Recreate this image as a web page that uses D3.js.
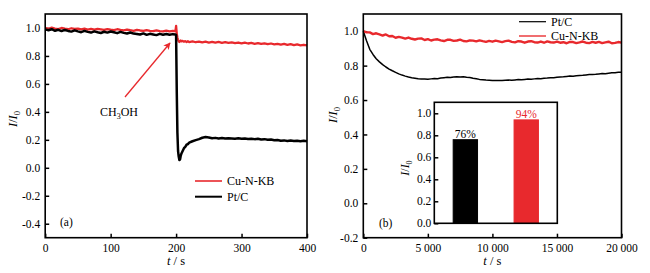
<!DOCTYPE html>
<html>
<head>
<meta charset="utf-8">
<script src="https://cdn.jsdelivr.net/npm/d3@7"></script>
<style>
  body { margin: 0; background: #fff; }
  svg { display: block; }
  svg text { font-family: "Liberation Serif", "Times New Roman", serif; }
</style>
</head>
<body>
<div id="chart"></div>
<script>
// ---- panel (a): chronoamperometry with CH3OH added at 200 s ----
var leftT = [0,5,10,15,20,25,30,35,40,45,50,55,60,65,70,75,80,85,90,95,
  100,105,110,115,120,125,130,135,140,145,150,155,160,165,170,175,180,185,190,195,
  199,200,201,202,203,204,205,206,207,208,
  210,212,214,216,218,220,
  225,230,235,240,245,250,255,260,265,270,275,280,285,290,295,300,305,310,315,320,
  325,330,335,340,345,350,355,360,365,370,375,380,385,390,395,400];

var leftPt = [0.990,0.984,0.991,0.980,0.987,0.978,0.986,0.979,0.974,0.983,
  0.976,0.970,0.979,0.972,0.967,0.976,0.969,0.964,0.973,0.967,
  0.975,0.969,0.963,0.972,0.965,0.961,0.968,0.960,0.957,0.953,
  0.961,0.951,0.958,0.954,0.949,0.958,0.952,0.957,0.951,0.956,
  0.954,0.950,0.550,0.250,0.120,0.080,0.055,0.060,0.085,0.100,
  0.120,0.140,0.150,0.165,0.170,0.180,
  0.190,0.198,0.205,0.215,0.220,0.217,0.212,0.214,0.210,0.213,
  0.209,0.212,0.210,0.208,0.211,0.207,0.210,0.206,0.208,0.205,
  0.207,0.203,0.205,0.200,0.202,0.197,0.199,0.194,0.196,0.192,
  0.195,0.191,0.194,0.190,0.193,0.190];

var leftCu = [1.000,0.994,1.002,0.996,0.992,1.000,0.995,0.991,0.998,0.993,
  0.996,0.990,0.995,0.989,0.994,0.988,0.993,0.990,0.986,0.992,
  0.988,0.985,0.991,0.986,0.983,0.989,0.984,0.980,0.987,0.982,
  0.979,0.985,0.980,0.977,0.983,0.978,0.975,0.981,0.976,0.979,
  0.978,1.015,0.960,0.930,0.915,0.905,0.900,0.905,0.910,0.904,
  0.908,0.902,0.906,0.900,0.905,0.899,
  0.904,0.898,0.903,0.897,0.902,0.896,0.901,0.895,0.900,0.894,
  0.899,0.893,0.897,0.892,0.896,0.890,0.895,0.889,0.893,0.887,
  0.892,0.886,0.890,0.884,0.889,0.883,0.887,0.881,0.886,0.879,
  0.884,0.877,0.882,0.876,0.880,0.875];

var leftXTicks = [0, 100, 200, 300, 400];
var leftYTicks = [-0.4, -0.2, 0.0, 0.2, 0.4, 0.6, 0.8, 1.0];

// ---- panel (b): long-term stability ----
var rightT = [0,250,500,750,1000,1250,1500,1750,2000,2250,
  2500,2750,3000,3250,3500,3750,4000,4250,4500,4750,
  5000,5250,5500,5750,6000,6250,6500,6750,7000,7250,
  7500,7750,8000,8250,8500,8750,9000,9250,9500,9750,
  10000,10250,10500,10750,11000,11250,11500,11750,12000,12250,
  12500,12750,13000,13250,13500,13750,14000,14250,14500,14750,
  15000,15250,15500,15750,16000,16250,16500,16750,17000,17250,
  17500,17750,18000,18250,18500,18750,19000,19250,19500,19750,
  20000];

var rightPt = [1.000,0.945,0.895,0.865,0.840,0.822,0.806,0.792,0.780,0.770,
  0.761,0.752,0.745,0.739,0.734,0.730,0.727,0.724,0.722,0.722,
  0.721,0.723,0.725,0.724,0.728,0.730,0.732,0.731,0.734,0.735,
  0.734,0.736,0.733,0.731,0.727,0.724,0.720,0.718,0.716,0.715,
  0.714,0.713,0.714,0.713,0.715,0.716,0.715,0.717,0.719,0.718,
  0.720,0.722,0.721,0.723,0.725,0.724,0.727,0.728,0.730,0.729,
  0.732,0.734,0.735,0.737,0.739,0.738,0.741,0.743,0.744,0.746,
  0.748,0.749,0.750,0.752,0.754,0.753,0.756,0.758,0.759,0.761,
  0.762];

var rightCu = [1.000,0.993,0.993,0.983,0.988,0.982,0.975,0.981,0.971,0.972,
  0.962,0.967,0.963,0.957,0.963,0.956,0.952,0.957,0.958,0.949,
  0.954,0.946,0.951,0.953,0.947,0.943,0.950,0.950,0.944,0.946,
  0.951,0.943,0.941,0.947,0.945,0.941,0.947,0.942,0.938,0.944,
  0.939,0.945,0.941,0.937,0.942,0.945,0.938,0.935,0.942,0.940,
  0.933,0.940,0.942,0.936,0.934,0.940,0.933,0.941,0.936,0.934,
  0.940,0.933,0.936,0.930,0.938,0.937,0.931,0.935,0.940,0.933,
  0.931,0.938,0.933,0.938,0.931,0.935,0.939,0.930,0.932,0.937,
  0.934];

var rightXTicks = [0, 5000, 10000, 15000, 20000];
var rightYTicks = [-0.2, 0.0, 0.2, 0.4, 0.6, 0.8, 1.0];

// inset bars
var insetCats = ["Pt/C", "Cu-N-KB"];
var insetVals = [0.76, 0.94];
var insetLabels = ["76%", "94%"];
var insetYTicks = [0.0, 0.2, 0.4, 0.6, 0.8, 1.0];

var width = 650, height = 273;
var red = "#e8292d";
var serif = "Liberation Serif";
var plotTop = 14, plotBottom = 237.7;

var svg = d3.select("#chart")
  .append("svg")
    .attr("width", width)
    .attr("height", height)
    .attr("font-family", serif);

svg.append("rect").attr("width", width).attr("height", height).attr("fill", "#fff");

var fmt1 = function (d) { return d.toFixed(1); };
var spaceFmt = d3.formatLocale({decimal: ".", thousands: " ", grouping: [3], currency: ["", ""]}).format(",d");

function styleAxis(g) {
  g.attr("font-family", serif).attr("font-size", 11.5);
  g.select(".domain").remove();
  g.selectAll(".tick line").attr("stroke", "#000").attr("stroke-width", 1.5);
  g.selectAll(".tick text").attr("fill", "#000");
}

function frame(x0, x1, y0, y1) {
  svg.append("rect")
    .attr("x", x0).attr("y", y0)
    .attr("width", x1 - x0).attr("height", y1 - y0)
    .attr("fill", "none").attr("stroke", "#000").attr("stroke-width", 1.6);
}

function yLabel(x0, y0, size) {
  var t = svg.append("text")
    .attr("transform", "translate(" + x0 + "," + y0 + ") rotate(-90)")
    .attr("text-anchor", "middle")
    .attr("font-size", size);
  t.append("tspan").attr("font-style", "italic").text("I");
  t.append("tspan").text("/");
  t.append("tspan").attr("font-style", "italic").text("I");
  t.append("tspan").attr("font-size", size * 0.68).attr("dy", 3).text("0");
}

function xLabel(cx, y0) {
  var t = svg.append("text")
    .attr("x", cx).attr("y", y0)
    .attr("text-anchor", "middle")
    .attr("font-size", 12.5);
  t.append("tspan").attr("font-style", "italic").text("t");
  t.append("tspan").text(" / s");
}

function drawPanel(xr, xDom, yDom, xTicks, yTicks, xFmt) {
  var x = d3.scaleLinear().domain(xDom).range(xr);
  var y = d3.scaleLinear().domain(yDom).range([plotBottom, plotTop]);

  svg.append("g")
    .attr("transform", "translate(0," + plotBottom + ")")
    .call(d3.axisBottom(x).tickValues(xTicks).tickFormat(xFmt)
      .tickSizeInner(-4).tickSizeOuter(0).tickPadding(6))
    .call(styleAxis);

  svg.append("g")
    .attr("transform", "translate(" + xr[0] + ",0)")
    .call(d3.axisLeft(y).tickValues(yTicks).tickFormat(fmt1)
      .tickSizeInner(-4).tickSizeOuter(0).tickPadding(5))
    .call(styleAxis);

  return {x: x, y: y};
}

function series(sc, ts, vs, color, w) {
  var line = d3.line()
    .x(function (d, i) { return sc.x(ts[i]); })
    .y(function (d) { return sc.y(d); });
  svg.append("path")
    .datum(vs)
    .attr("d", line)
    .attr("fill", "none")
    .attr("stroke", color)
    .attr("stroke-width", w)
    .attr("stroke-linejoin", "round");
}

function legendRow(x0, y0, color, w, label) {
  svg.append("line")
    .attr("x1", x0).attr("x2", x0 + 27)
    .attr("y1", y0).attr("y2", y0)
    .attr("stroke", color).attr("stroke-width", w);
  svg.append("text")
    .attr("x", x0 + 32).attr("y", y0 + 4)
    .attr("font-size", 12)
    .text(label);
}

// ---------- panel (a) ----------
var a = drawPanel([45.2, 307], [0, 400], [-0.5, 1.1], leftXTicks, leftYTicks, d3.format("d"));
series(a, leftT, leftCu, red, 2.3);
series(a, leftT, leftPt, "#000", 2.5);
frame(45.2, 307, plotTop, plotBottom);

legendRow(195, 181, red, 1.6, "Cu-N-KB");
legendRow(195, 196.7, "#000", 2, "Pt/C");
svg.append("text").attr("x", 60).attr("y", 226).attr("font-size", 11.5).text("(a)");

// CH3OH annotation
svg.append("defs").append("marker")
    .attr("id", "arrow")
    .attr("viewBox", "0 0 10 10")
    .attr("refX", 9).attr("refY", 5)
    .attr("markerWidth", 9).attr("markerHeight", 7)
    .attr("markerUnits", "userSpaceOnUse")
    .attr("orient", "auto")
  .append("path")
    .attr("d", "M0,0 L10,5 L0,10 L2.5,5 z")
    .attr("fill", red);

svg.append("line")
  .attr("x1", 125).attr("y1", 97)
  .attr("x2", 170).attr("y2", 43)
  .attr("stroke", red).attr("stroke-width", 1.3)
  .attr("marker-end", "url(#arrow)");

var ch = svg.append("text").attr("x", 100).attr("y", 116).attr("font-size", 12);
ch.append("tspan").text("CH");
ch.append("tspan").attr("font-size", 8).attr("dy", 3).text("3");
ch.append("tspan").attr("dy", -3).text("OH");

yLabel(17, 119, 12.5);
xLabel(176, 265);

// ---------- panel (b) ----------
var b = drawPanel([363.3, 621.5], [0, 20000], [-0.2, 1.1], rightXTicks, rightYTicks, spaceFmt);
series(b, rightT, rightPt, "#000", 1.5);
series(b, rightT, rightCu, red, 2.4);
frame(363.3, 621.5, plotTop, plotBottom);

legendRow(519, 21.7, "#000", 1.2, "Pt/C");
legendRow(519, 36, "#ec4a4c", 1.6, "Cu-N-KB");
svg.append("text").attr("x", 379).attr("y", 226.5).attr("font-size", 11.5).text("(b)");

yLabel(337, 115, 12.5);
xLabel(492.4, 265);

// ---------- inset bar chart ----------
var ix0 = 434.3, ix1 = 557.3, iy0 = 102.3, iy1 = 223.3;
var ix = d3.scaleBand().domain(insetCats).range([ix0, ix1]).paddingInner(0.6).paddingOuter(0.31);
var iy = d3.scaleLinear().domain([0, 1.1]).range([iy1, iy0]);

svg.append("rect")
  .attr("x", ix0).attr("y", iy0)
  .attr("width", ix1 - ix0).attr("height", iy1 - iy0)
  .attr("fill", "#fff");

svg.append("g")
  .attr("transform", "translate(" + ix0 + ",0)")
  .call(d3.axisLeft(iy).tickValues(insetYTicks).tickFormat(fmt1)
    .tickSizeInner(-4).tickSizeOuter(0).tickPadding(3))
  .call(styleAxis);

var barColors = ["#000", red];
svg.append("g").selectAll("rect")
  .data(insetVals)
  .enter()
  .append("rect")
    .attr("x", function (d, i) { return ix(insetCats[i]); })
    .attr("y", function (d) { return iy(d); })
    .attr("width", ix.bandwidth())
    .attr("height", function (d) { return iy1 - iy(d); })
    .attr("fill", function (d, i) { return barColors[i]; })
    .attr("stroke", function (d, i) { return barColors[i]; })
    .attr("stroke-width", 1);

svg.append("g").selectAll("text")
  .data(insetVals)
  .enter()
  .append("text")
    .attr("x", function (d, i) { return ix(insetCats[i]) + ix.bandwidth() / 2; })
    .attr("y", function (d) { return iy(d) - 1.5; })
    .attr("text-anchor", "middle")
    .attr("font-size", 11.5)
    .attr("fill", function (d, i) { return barColors[i]; })
    .text(function (d, i) { return insetLabels[i]; });

frame(ix0, ix1, iy0, iy1);
yLabel(409, 168, 12);
</script>
</body>
</html>
